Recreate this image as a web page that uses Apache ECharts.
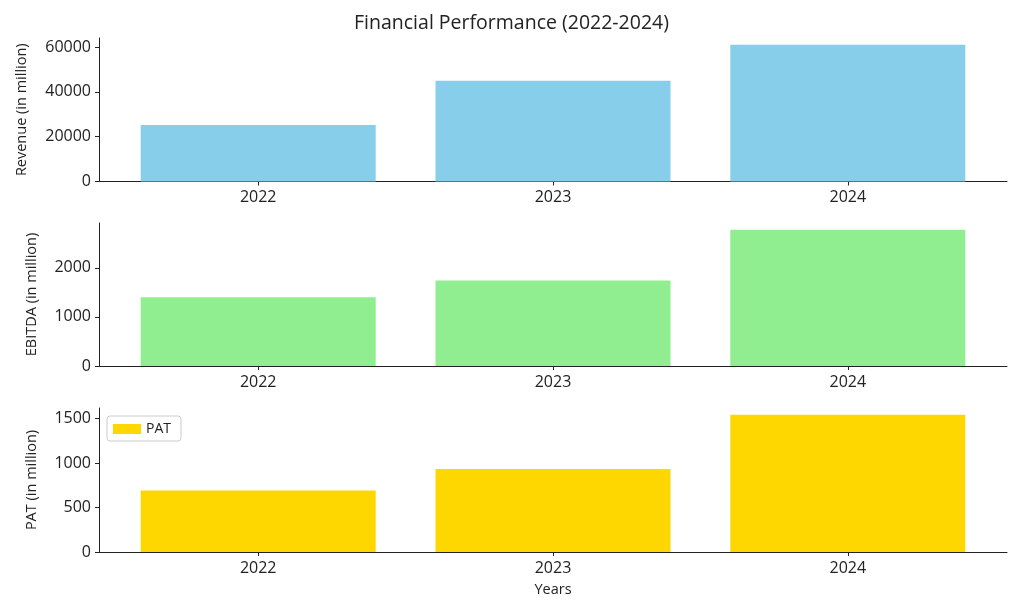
<!DOCTYPE html>
<html>
<head>
<meta charset="utf-8">
<script src="https://cdn.jsdelivr.net/npm/echarts@6/dist/echarts.min.js"></script>
<style>html,body{margin:0;padding:0;background:#fff}#c{width:1023px;height:614px}</style>
</head>
<body>
<div id="c"></div>
<script>
const years = ['2022', '2023', '2024'];
const revenue = [25200, 45000, 61000];
const ebitda = [1400, 1740, 2775];
const pat = [690, 933, 1540];
const revenueTicks = [0, 20000, 40000, 60000];
const ebitdaTicks = [0, 1000, 2000];
const patTicks = [0, 500, 1000, 1500];

const FONT = '"Open Sans", Lato, sans-serif';
const chart = echarts.init(document.getElementById('c'));
const idx = years.map((_, i) => i);
const grids = [
  {left: 99, right: 16, top: 38, bottom: 432.5},
  {left: 99, right: 16, top: 223, bottom: 248},
  {left: 99, right: 16, top: 408, bottom: 62}
];
const lineStyle = {color: '#222', width: 1};
function xAxis(g, name) {
  return {
    type: 'value', gridIndex: g, min: -0.54, max: 2.54,
    splitLine: {show: false},
    axisLine: {show: true, onZero: false, lineStyle},
    axisTick: {show: true, customValues: idx, length: 4, lineStyle},
    axisLabel: {customValues: idx, formatter: v => years[Math.round(v)], color: '#222', fontSize: 16, fontFamily: FONT, margin: 8},
    name: name || '', nameLocation: 'middle', nameGap: 30,
    nameTextStyle: {color: '#222', fontSize: 14.5, fontFamily: FONT}
  };
}
function yAxis(g, ticks, maxVal, name, gap) {
  return {
    type: 'value', gridIndex: g, min: 0, max: maxVal * 1.05,
    splitLine: {show: false},
    axisLine: {show: true, onZero: false, lineStyle},
    axisTick: {show: true, customValues: ticks, length: 4, lineStyle},
    axisLabel: {customValues: ticks, formatter: v => String(v), color: '#222', fontSize: 16, fontFamily: FONT, margin: 8},
    name, nameLocation: 'middle', nameGap: gap,
    nameTextStyle: {color: '#222', fontSize: 14.5, fontFamily: FONT}
  };
}
function toPts(arr) { return arr.map((v, i) => [i, v]); }
chart.setOption({
  animation: false,
  title: {text: 'Financial Performance (2022-2024)', left: 'center', top: 8,
    textStyle: {color: '#222', fontSize: 19.5, fontWeight: 'normal', fontFamily: FONT}},
  grid: grids,
  xAxis: [xAxis(0), xAxis(1), xAxis(2, 'Years')],
  yAxis: [
    yAxis(0, revenueTicks, Math.max(...revenue), 'Revenue (in million)', 70),
    yAxis(1, ebitdaTicks, Math.max(...ebitda), 'EBITDA (in million)', 60),
    yAxis(2, patTicks, Math.max(...pat), 'PAT (in million)', 60)
  ],
  legend: {
    data: ['PAT'], left: 107, top: 416, orient: 'vertical',
    icon: 'rect', itemWidth: 28, itemHeight: 10, itemGap: 6,
    padding: [6, 10, 5, 6],
    borderColor: '#ccc', borderWidth: 1, borderRadius: 3,
    textStyle: {color: '#222', fontSize: 14, fontFamily: FONT}
  },
  series: [
    {name: 'Revenue', type: 'bar', xAxisIndex: 0, yAxisIndex: 0, data: toPts(revenue), barWidth: 235, itemStyle: {color: '#87CEEB'}},
    {name: 'EBITDA', type: 'bar', xAxisIndex: 1, yAxisIndex: 1, data: toPts(ebitda), barWidth: 235, itemStyle: {color: '#90EE90'}},
    {name: 'PAT', type: 'bar', xAxisIndex: 2, yAxisIndex: 2, data: toPts(pat), barWidth: 235, itemStyle: {color: '#FFD700'}}
  ]
});
</script>
</body>
</html>
